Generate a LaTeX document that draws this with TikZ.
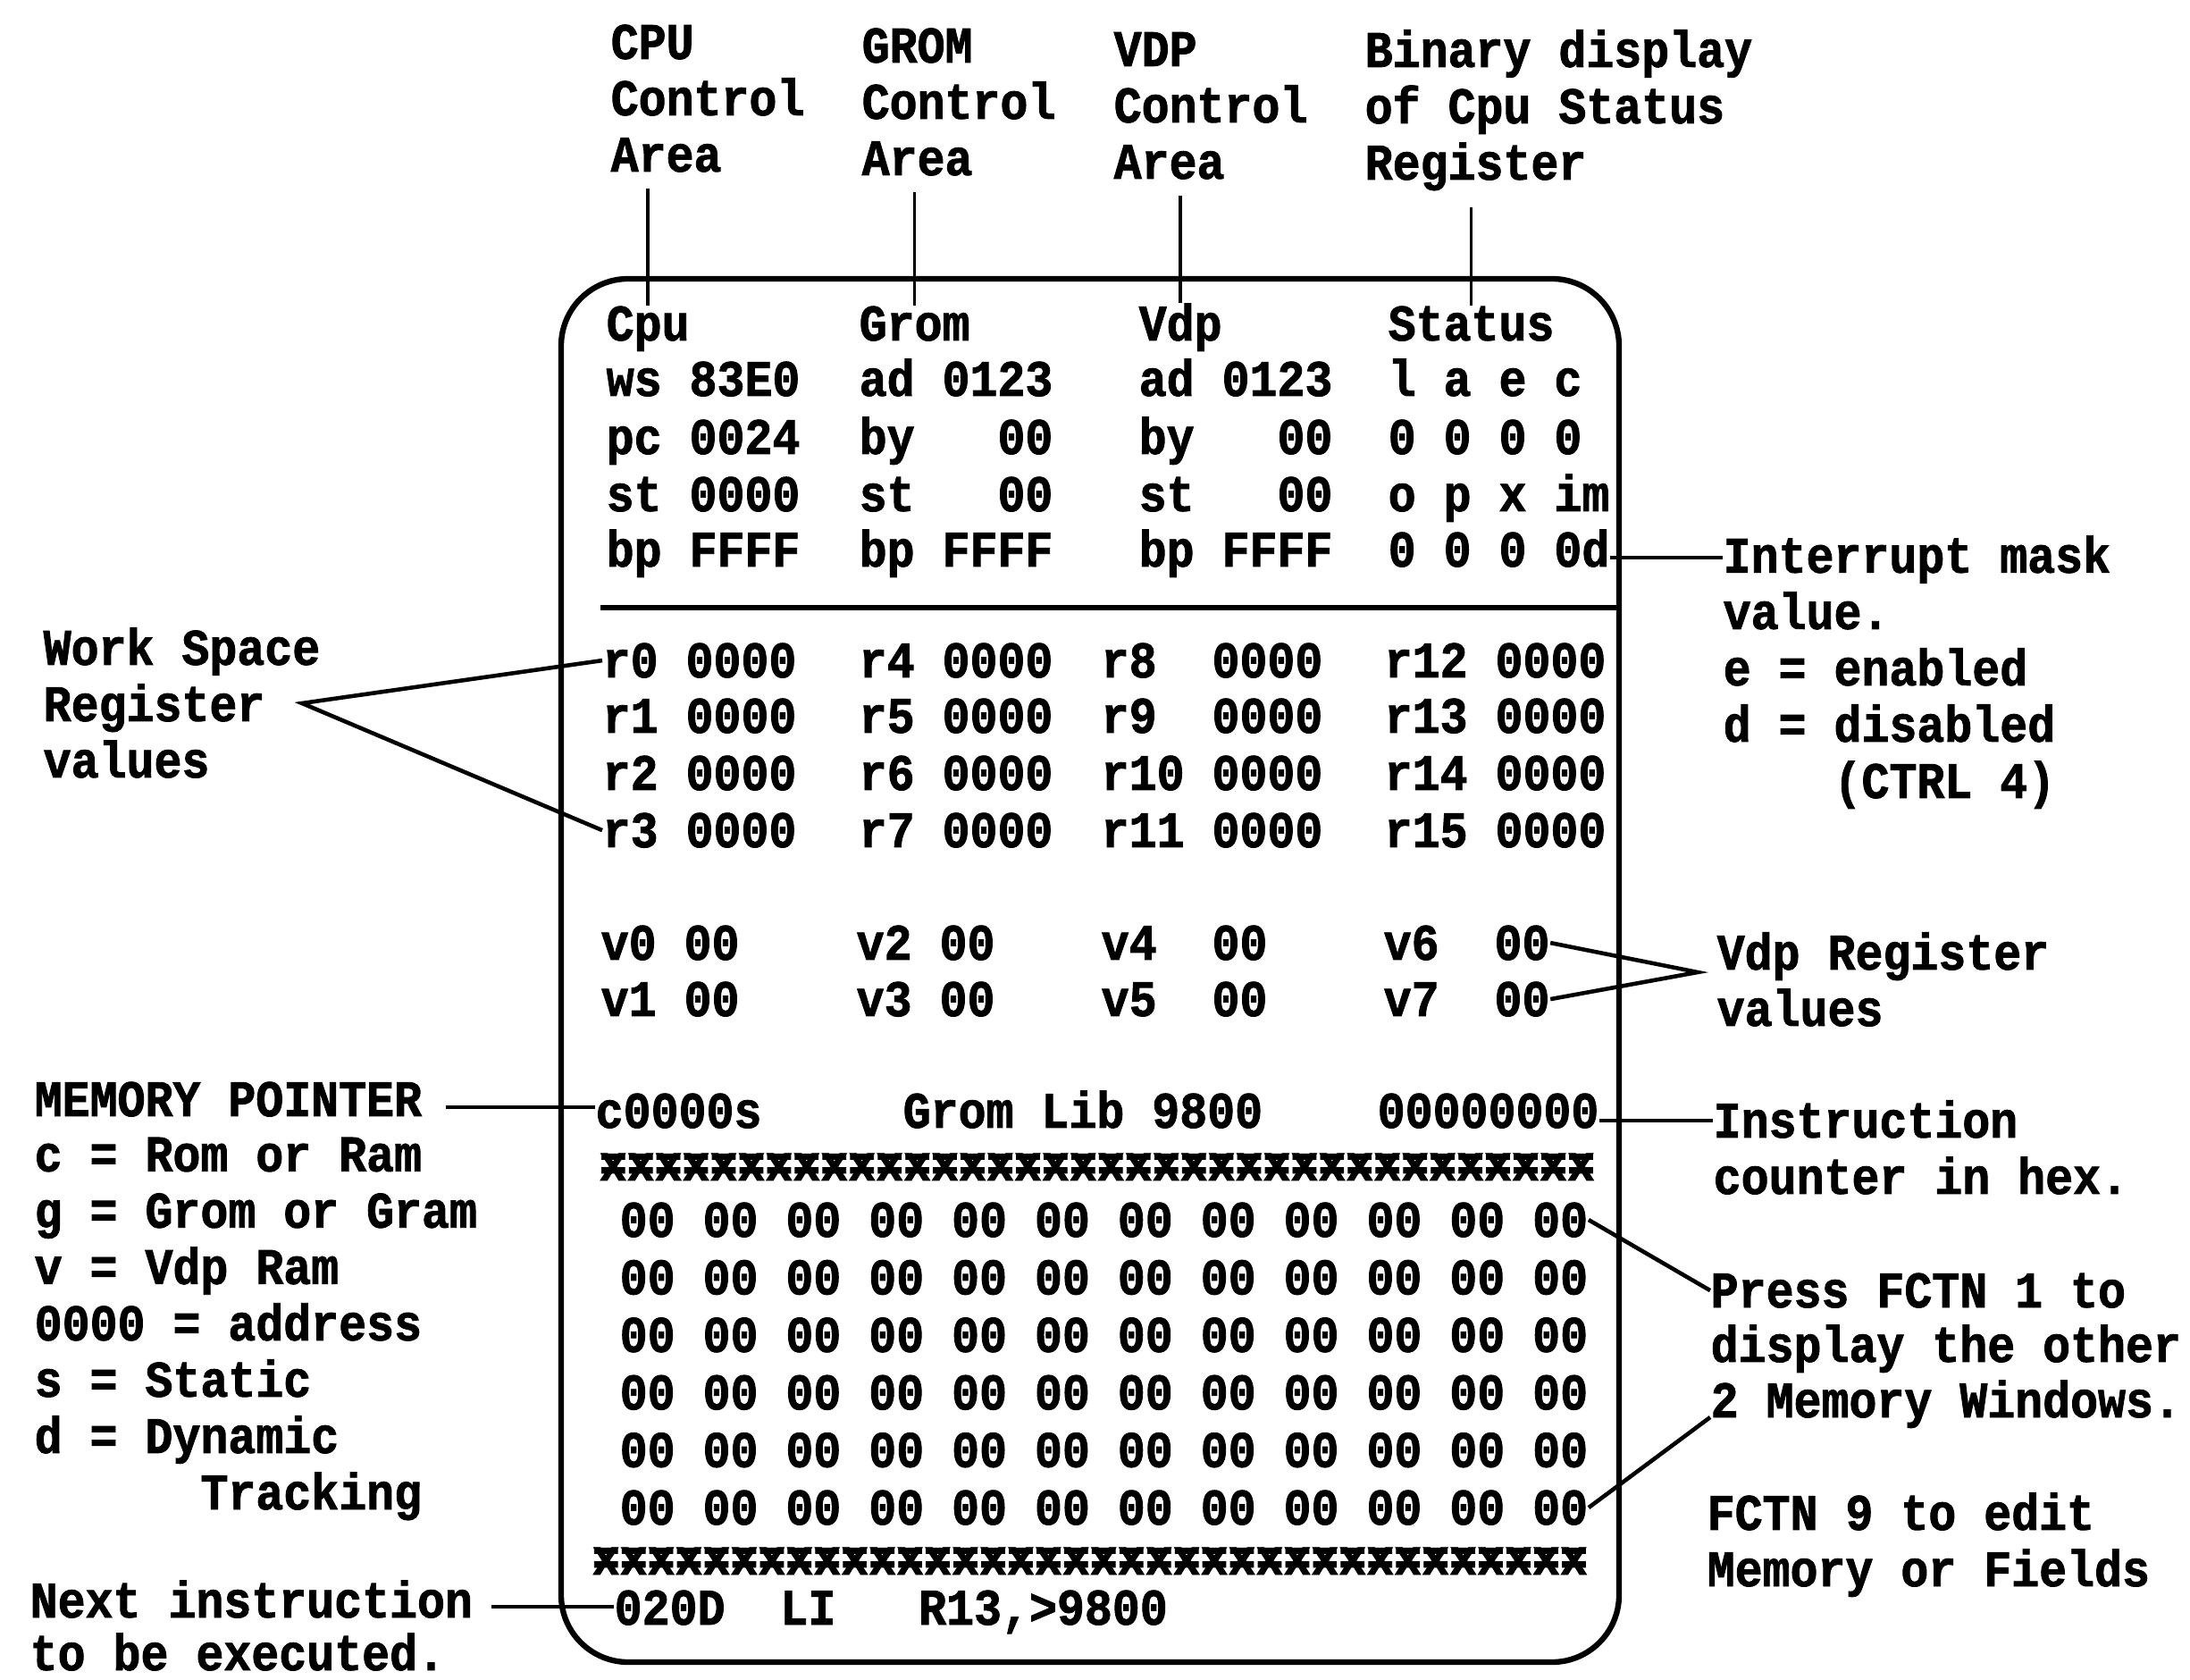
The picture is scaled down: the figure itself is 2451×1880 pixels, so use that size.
\documentclass[tikz,border=0pt]{standalone}
\usepackage{fontspec}
\usepackage{tikz}
\usetikzlibrary{calc}
\newfontfamily\screenfont[FakeStretch=0.9, BoldFeatures={FakeBold=1.5}]{Liberation Mono}
\newcommand{\scr}{\screenfont\bfseries\fontsize{16.3pt}{17.93pt}\selectfont}
\newcommand{\blob}{\rlap{=}x}
\newcommand{\sepline}{\foreach \j in {1,...,36}{\blob}}
\newcommand{\hexrow}{00 00 00 00 00 00 00 00 00 00 00 00}

\begin{document}
\begin{tikzpicture}[x=0.01cm, y=-0.01cm,
  txt/.style={font=\scr, inner sep=0pt, anchor=base west},
  note/.style={txt, align=left},
  lead/.style={line width=1.3pt},
  tick/.style={line width=1pt},
  frame/.style={line width=1.8pt}]
  \useasboundingbox (0,0) rectangle (2451,1880);
  % area labels on top (placed at the baseline of their last line)
  \node[note] (cpu-lbl)  at (683,192)  {CPU\\Control\\Area};
  \node[note] (grom-lbl) at (964,196)  {GROM\\Control\\Area};
  \node[note] (vdp-lbl)  at (1246,200) {VDP\\Control\\Area};
  \node[note] (stat-lbl) at (1527,201) {Binary display\\of Cpu Status\\Register};
  % the screen
  \draw[frame, rounded corners=0.75cm] (628,312) rectangle (1812,1860);
  \draw[frame] (672,680) -- (1812,680);
  \foreach \n/\x/\a/\b/\c/\d/\e in {cpu/678/Cpu/ws 83E0/pc 0024/st 0000/bp FFFF,
      grom/961/Grom/ad 0123/by~~~00/st~~~00/bp FFFF,
      vdp/1274/Vdp/ad 0123/by~~~00/st~~~00/bp FFFF,
      stat/1553/Status/l a e c/0 0 0 0/o p x im/0 0 0 0d}
  {
    \node[txt] (\n-hd) at (\x,381) {\a};
    \node[txt] (\n-1) at (\x,443) {\b};
    \node[txt] (\n-2) at (\x,508) {\c};
    \node[txt] (\n-3) at (\x,572) {\d};
    \node[txt] (\n-4) at (\x,634) {\e};
    \draw[tick] ($(\n-hd.north |- \n-lbl.south)+(0,18)$) -- (\n-hd.north);
  }
  % work space registers
  \foreach \k/\y in {0/758, 1/820, 2/884, 3/948}
  {
    \pgfmathtruncatemacro{\kb}{\k+4}
    \pgfmathtruncatemacro{\kc}{\k+8}
    \pgfmathtruncatemacro{\kd}{\k+12}
    \node[txt] (reg\k)  at (674,\y)  {r\k\ 0000};
    \node[txt] (reg\kb) at (961,\y)  {r\kb\ 0000};
    \node[txt] (reg\kc) at (1232,\y) {r\kc\ifnum\kc<10~\fi~0000};
    \node[txt] (reg\kd) at (1549,\y) {r\kd\ 0000};
  }
  % vdp registers
  \foreach \k/\y in {0/1074, 1/1137}
  {
    \pgfmathtruncatemacro{\kb}{\k+2}
    \pgfmathtruncatemacro{\kc}{\k+4}
    \pgfmathtruncatemacro{\kd}{\k+6}
    \node[txt] (vreg\k)  at (672,\y)  {v\k\ 00};
    \node[txt] (vreg\kb) at (958,\y)  {v\kb\ 00};
    \node[txt] (vreg\kc) at (1232,\y) {v\kc~~00};
    \node[txt] (vreg\kd) at (1548,\y) {v\kd~~00};
  }
  % memory window
  \node[txt] (ptr)     at (666,1262)  {c0000s};
  \node[txt] (lib)     at (1010,1262) {Grom Lib 9800};
  \node[txt] (counter) at (1541,1262) {00000000};
  \node[txt] (sep1) at (670,1321) {\sepline};
  \foreach \k in {1,...,6}
    {\node[txt] (hex\k) at (693,{1384+64.4*(\k-1)}) {\hexrow};}
  \node[txt] (sep2) at (662,1762) {\sepline};
  \node[txt] (instr) at (687,1818) {020D~~LI~~~R13,>9800};
  % notes left
  \node[note] (ws-lbl) at (48,870) {Work Space\\Register\\values};
  \coordinate (wsapex) at (338,787);
  \draw[lead] (reg0.west) -- (wsapex) -- (reg3.west);
  \node[txt] (mptr) at (38,1249) {MEMORY POINTER};
  \node[note] (mpkey) at (38,1689)
    {c = Rom or Ram\\g = Grom or Gram\\v = Vdp Ram\\0000 = address\\s = Static\\d = Dynamic\\~~~~~~Tracking};
  \coordinate (mpend) at ([yshift=0.1cm]mptr.base east);
  \draw[lead] ([xshift=0.26cm]mpend) -- (mpend -| ptr.west);
  \node[txt] (nxt)  at (33,1810) {Next instruction};
  \node[txt] (nxt2) at (33,1869) {to be executed.};
  \coordinate (nxend) at ([yshift=0.12cm]nxt.base east);
  \draw[lead] ([xshift=0.2cm]nxend) -- (nxend -| instr.west);
  % notes right
  \node[note] (int-lbl) at (1928,893)
    {Interrupt mask\\value.\\e = enabled\\d = disabled\\~~~~(CTRL 4)};
  \coordinate (imend) at ([yshift=0.1cm]stat-4.base east);
  \draw[lead] (imend) -- (imend -| int-lbl.west);
  \node[note] (vdp-reg) at (1921,1148) {Vdp Register\\values};
  \coordinate (vdpapex) at (1900,1088);
  \draw[lead] (vreg6.east) -- (vdpapex) -- (vreg7.east);
  \node[note] (cnt-lbl) at (1917,1336) {Instruction\\counter in hex.};
  \coordinate (cntend) at ([yshift=0.08cm]counter.base east);
  \draw[lead] (cntend) -- (cntend -| cnt-lbl.west);
  \node[txt] (press)  at (1914,1463) {Press FCTN 1 to};
  \node[txt] (disp)   at (1914,1524) {display the other};
  \node[txt] (memwin) at (1914,1586) {2 Memory Windows.};
  \draw[lead] (hex1.east) -- (press.west);
  \draw[lead] (hex6.east) -- (memwin.base west);
  \node[note] (edit) at (1910,1775) {FCTN 9 to edit\\Memory or Fields};
\end{tikzpicture}
\end{document}
